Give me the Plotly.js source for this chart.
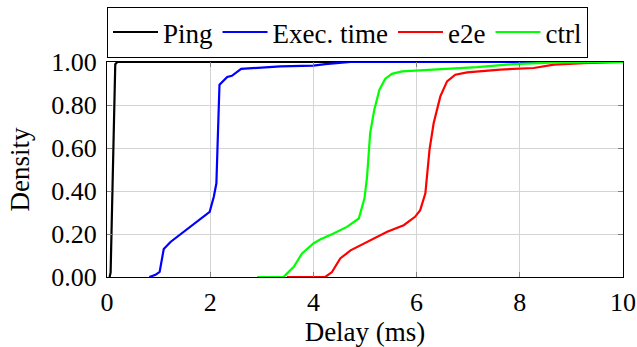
<!DOCTYPE html>
<html><head><meta charset="utf-8">
<script src="https://cdn.plot.ly/plotly-3.0.1.min.js"></script>
<style>html,body{margin:0;padding:0;background:#fff;}#chart{width:637px;height:347px;}</style>
</head><body><div id="chart"></div>
<script>
const pingX = [0.05, 0.07, 0.16, 0.2, 10];
const pingY = [0, 0.02, 0.99, 1, 1];
const execX = [0.82, 0.94, 1.02, 1.10, 1.23, 1.52, 1.81, 1.99, 2.07, 2.12, 2.14, 2.18, 2.33, 2.42, 2.60, 2.84, 3.36, 4.0, 4.23, 4.72, 10];
const execY = [0, 0.01, 0.024, 0.13, 0.163, 0.218, 0.272, 0.303, 0.373, 0.436, 0.59, 0.894, 0.93, 0.936, 0.968, 0.972, 0.98, 0.983, 0.99, 1.0, 1.0];
const e2eX = [3.49, 4.23, 4.36, 4.52, 4.72, 5.04, 5.43, 5.75, 5.97, 6.07, 6.17, 6.25, 6.33, 6.46, 6.59, 6.75, 6.98, 7.62, 8.27, 8.66, 9.24, 10];
const e2eY = [0, 0, 0.023, 0.086, 0.124, 0.163, 0.21, 0.241, 0.28, 0.311, 0.389, 0.591, 0.715, 0.84, 0.91, 0.941, 0.952, 0.965, 0.972, 0.988, 0.995, 1.0];
const ctrlX = [2.91, 3.42, 3.62, 3.78, 4.0, 4.13, 4.39, 4.65, 4.88, 4.99, 5.04, 5.10, 5.18, 5.28, 5.39, 5.52, 5.72, 6.01, 6.65, 7.17, 7.88, 8.59, 10];
const ctrlY = [0, 0, 0.047, 0.11, 0.156, 0.174, 0.202, 0.233, 0.272, 0.366, 0.466, 0.669, 0.778, 0.871, 0.921, 0.945, 0.956, 0.96, 0.967, 0.976, 0.99, 0.997, 1.0];
const names = ["Ping", "Exec. time", "e2e", "ctrl"];
const colors = ["#000000", "#0000ff", "#ff0000", "#00ff00"];
const xs = [pingX, execX, e2eX, ctrlX];
const ys = [pingY, execY, e2eY, ctrlY];

const font = "Liberation Serif";
const fs = 26;
const fsT = 27;
const traces = names.map((n, i) => ({
  x: xs[i], y: ys[i], name: n, type: "scatter", mode: "lines",
  line: {color: colors[i], width: 2.2}
}));
const axisCommon = {
  showline: true, linecolor: "#000", linewidth: 1, mirror: "allticks",
  ticks: "inside", ticklen: 5, tickcolor: "#808080", tickwidth: 1,
  showgrid: true, gridcolor: "#d4d4d4", gridwidth: 1, zeroline: false,
  tickfont: {family: font, size: fs, color: "#000"}
};
const layout = {
  width: 637, height: 347,
  margin: {l: 107, r: 14, t: 62, b: 70, autoexpand: false},
  paper_bgcolor: "#fff", plot_bgcolor: "#fff",
  font: {family: font, size: fs, color: "#000"},
  showlegend: true,
  legend: {orientation: "h", x: 0, xanchor: "left", y: 1.256, yanchor: "top",
    bordercolor: "#000", borderwidth: 1, bgcolor: "#fff", itemwidth: 45,
    font: {family: font, size: fsT, color: "#000"}, tracegroupgap: 0},
  xaxis: Object.assign({}, axisCommon, {range: [0, 10], tickvals: [0,2,4,6,8,10], ticktext: ["0","2","4","6","8","10"],
    ticklabelstandoff: 2,
    title: {text: "Delay (ms)", font: {family: font, size: fsT}, standoff: 5}}),
  yaxis: Object.assign({}, axisCommon, {range: [0, 1], tickvals: [0,0.2,0.4,0.6,0.8,1], tickformat: ".2f",
    ticklabelstandoff: 4,
    title: {text: "Density", font: {family: font, size: fsT}, standoff: 13}})
};
Plotly.newPlot("chart", traces, layout, {staticPlot: true, displayModeBar: false});
</script></body></html>
